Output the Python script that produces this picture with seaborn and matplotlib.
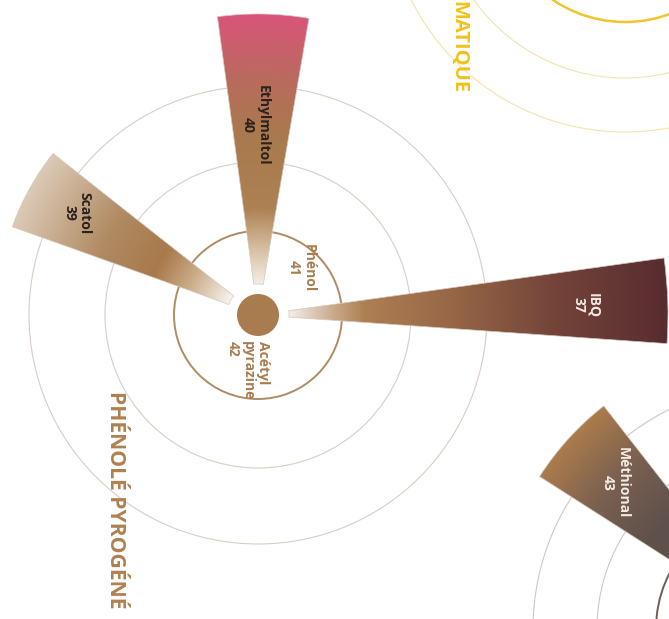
import numpy as np
import pandas as pd
import seaborn as sns
import matplotlib.pyplot as plt
from matplotlib.patches import Wedge, Circle
from matplotlib.colors import LinearSegmentedColormap

# --- data ---
# "phénolé pyrogéné" family (wedges: direction in degrees, length and angular width)
pheno_names = ["Ethylmaltol", "Scatol", "IBQ", "Phénol", "Acétyl\npyrazine"]
pheno_codes = [40, 39, 37, 41, 42]
pheno_angle = [89.0, 151.0, 2.0, 47.5, -100.0]
pheno_length = [301, 261, 410, 0, 0]
pheno_width = [17.5, 18.5, 12.0, 0, 0]

# neighbouring family, only Méthional visible
soufre_names = ["Méthional"]
soufre_codes = [43]
soufre_angle = [137.7]
soufre_length = [283]
soufre_width = [19.4]

pheno = pd.DataFrame({"name": pheno_names, "code": pheno_codes, "angle": pheno_angle,
                      "length": pheno_length, "width": pheno_width})
soufre = pd.DataFrame({"name": soufre_names, "code": soufre_codes, "angle": soufre_angle,
                       "length": soufre_length, "width": soufre_width})

# --- layout / style ---
W, H = 669, 619
C_PHENO = (258, 315)
C_SOUFRE = (778, 629)
C_AROMA = (625, -107)
R0 = 31
BROWN = "#a97c50"

gradients = {
    "Ethylmaltol": [(0, "#f4eee8"), (0.12, "#d9c2a6"), (0.28, "#ad8153"), (0.55, "#a87a4e"),
                    (0.75, "#b86c5c"), (1, "#d9557a")],
    "Scatol": [(0, "#f8f4f0"), (0.2, "#c8a883"), (0.35, "#a8794b"), (0.6, "#b08a62"),
               (1, "#dccab6")],
    "IBQ": [(0, "#f3ece6"), (0.12, "#c9a888"), (0.2, "#ad7f52"), (0.4, "#9a6a48"),
            (0.7, "#74443a"), (1, "#582c30")],
    "Méthional": [(0, "#5a4d4a"), (0.5, "#5f514c"), (0.75, "#7a6050"), (1, "#ab7c4c")],
}
label_pos = {  # (radius, angle) of the label block around its cluster centre
    "Ethylmaltol": (190, 90.9), "Scatol": (208, 150.6), "IBQ": (328, 1.7),
    "Phénol": (64, 47.5), "Acétyl\npyrazine": (57, -100), "Méthional": (219, 138.1),
}
label_color = {"Ethylmaltol": "#2b211c", "Scatol": "#2b211c", "IBQ": "#f1e9e3",
               "Phénol": BROWN, "Acétyl\npyrazine": BROWN, "Méthional": "#f2ece6"}

sns.set_theme(style="white")
plt.rcParams['font.family'] = ['Open Sans', 'DejaVu Sans']

fig = plt.figure(figsize=(W / 100, H / 100), dpi=100)
ax = fig.add_axes([0, 0, 1, 1])
ax.axis('off')

gx, gy = np.meshgrid(np.arange(W) + 0.5, np.arange(H) + 0.5)


def ring(center, r, color, lw):
    ax.add_patch(Circle(center, r, fill=False, ec=color, lw=lw, zorder=1))


def bar(center, angle, length, width, stops):
    wedge = Wedge(center, length, -angle - width / 2, -angle + width / 2,
                  width=length - R0, fc="none", ec="#d3c8be", lw=0.5, zorder=3)
    ax.add_patch(wedge)
    rr = np.hypot(gx - center[0], gy - center[1])
    t = np.clip((rr - R0) / (length - R0), 0, 1)
    cmap = LinearSegmentedColormap.from_list("g", stops)
    im = ax.imshow(t, cmap=cmap, vmin=0, vmax=1, extent=(0, W, H, 0), origin="upper",
                   aspect="auto", interpolation="bilinear", zorder=2)
    im.set_clip_path(wedge)


def label(center, name, code, ha_multi="center"):
    r, a = label_pos[name]
    x = center[0] + r * np.cos(np.radians(a))
    y = center[1] - r * np.sin(np.radians(a))
    ax.text(x, y, f"{name}\n{code}", rotation=-90, ha="center", va="center",
            multialignment=ha_multi, fontsize=10, fontweight="bold",
            color=label_color[name], linespacing=1.1, zorder=4)


# rings
for r in [153, 229]:
    ring(C_PHENO, r, "#d8cec6", 0.8)
ring(C_PHENO, 84, "#b08b63", 1.4)
for r in [181, 245]:
    ring(C_SOUFRE, r, "#cfc8c4", 0.8)
ring(C_SOUFRE, 122, "#6b5f5a", 1.4)
for r in [185, 239]:
    ring(C_AROMA, r, "#f3e4ad", 0.8)
ring(C_AROMA, 129, "#f0c52e", 1.8)

# centre disc
ax.add_patch(Circle(C_PHENO, 21, fc=BROWN, ec="none", zorder=3))

# wedges and labels
for _, row in pheno.iterrows():
    if row["length"] > 0:
        bar(C_PHENO, row["angle"], row["length"], row["width"], gradients[row["name"]])
    label(C_PHENO, row["name"], row["code"],
          "left" if row["name"].startswith("Acétyl") else "center")
for _, row in soufre.iterrows():
    bar(C_SOUFRE, row["angle"], row["length"], row["width"], gradients[row["name"]])
    label(C_SOUFRE, row["name"], row["code"])

# family titles (as far as they show in the frame)
ax.text(115, 391, "PHÉNOLÉ PYROGÉNÉ", rotation=-90, ha="center", va="top",
        fontsize=15.2, fontweight="bold", color="#b08050")
ax.text(458, 1, "MATIQUE", rotation=-90, ha="center", va="top",
        fontsize=14.5, fontweight="bold", color="#f2c21a")

ax.set_xlim(0, W)
ax.set_ylim(H, 0)
fig.savefig("out.png", dpi=100)
